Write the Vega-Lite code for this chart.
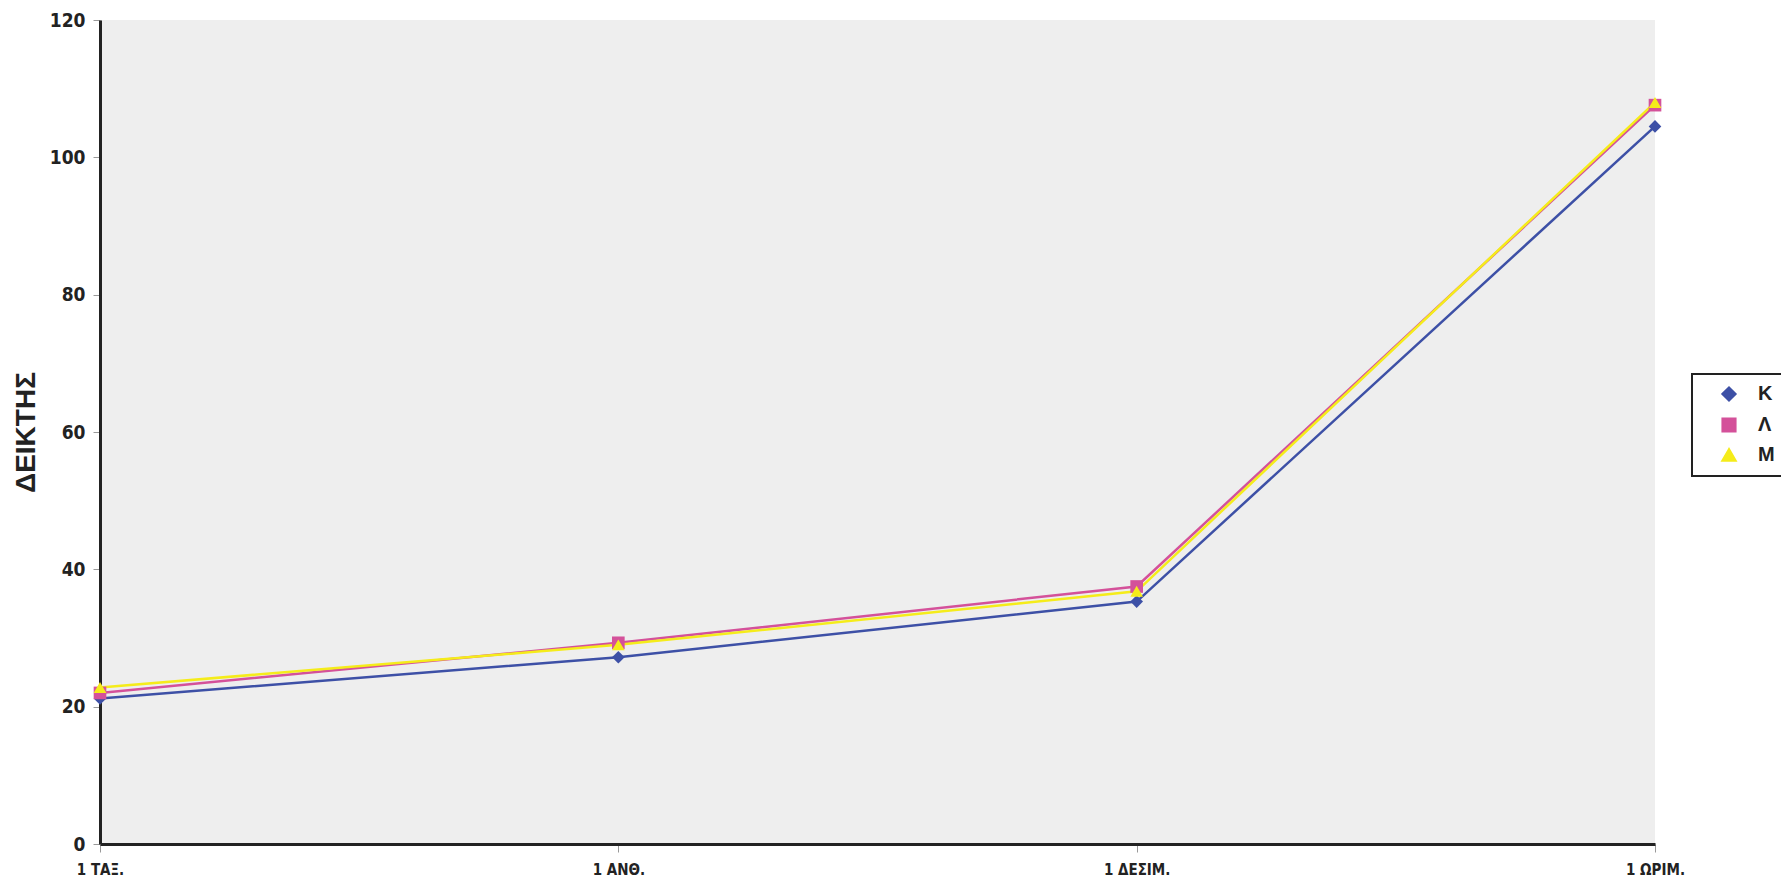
{
  "$schema": "https://vega.github.io/schema/vega-lite/v6.json",
  "width": 1555,
  "height": 824,
  "autosize": {"type": "none"},
  "padding": {"left": 100, "top": 20, "right": 126, "bottom": 41},
  "background": "white",
  "config": {
    "view": {"fill": "#eeeeee", "stroke": null},
    "font": "DejaVu Sans Condensed, Liberation Sans, sans-serif"
  },
  "data": {
    "values": [
      {"stage": "1 ΤΑΞ.", "series": "Κ", "value": 21.2},
      {"stage": "1 ΑΝΘ.", "series": "Κ", "value": 27.2},
      {"stage": "1 ΔΕΣΙΜ.", "series": "Κ", "value": 35.3},
      {"stage": "1 ΩΡΙΜ.", "series": "Κ", "value": 104.5},
      {"stage": "1 ΤΑΞ.", "series": "Λ", "value": 22.0},
      {"stage": "1 ΑΝΘ.", "series": "Λ", "value": 29.3},
      {"stage": "1 ΔΕΣΙΜ.", "series": "Λ", "value": 37.5},
      {"stage": "1 ΩΡΙΜ.", "series": "Λ", "value": 107.6},
      {"stage": "1 ΤΑΞ.", "series": "Μ", "value": 22.8},
      {"stage": "1 ΑΝΘ.", "series": "Μ", "value": 29.0},
      {"stage": "1 ΔΕΣΙΜ.", "series": "Μ", "value": 36.8},
      {"stage": "1 ΩΡΙΜ.", "series": "Μ", "value": 108.0}
    ]
  },
  "mark": {"type": "line", "strokeWidth": 2.5, "point": {"filled": true, "size": 160}},
  "encoding": {
    "x": {
      "field": "stage",
      "type": "ordinal",
      "sort": ["1 ΤΑΞ.", "1 ΑΝΘ.", "1 ΔΕΣΙΜ.", "1 ΩΡΙΜ."],
      "scale": {"type": "point", "padding": 0},
      "axis": {
        "title": null,
        "labelAngle": 0,
        "labelFont": "DejaVu Sans Condensed, Liberation Sans, sans-serif",
        "labelFontWeight": "bold",
        "labelFontSize": 15,
        "labelColor": "#222222",
        "labelPadding": 10,
        "tickColor": "#999999",
        "tickSize": 8,
        "domainColor": "#222222",
        "domainWidth": 3,
        "grid": false
      }
    },
    "y": {
      "field": "value",
      "type": "quantitative",
      "scale": {"domain": [0, 120], "nice": false},
      "axis": {
        "title": "ΔΕΙΚΤΗΣ",
        "titleFont": "Liberation Sans",
        "titleFontWeight": "bold",
        "titleFontSize": 28,
        "titleColor": "#222222",
        "titlePadding": 9,
        "values": [0, 20, 40, 60, 80, 100, 120],
        "labelFont": "DejaVu Sans Condensed, Liberation Sans, sans-serif",
        "labelFontWeight": "bold",
        "labelFontSize": 19,
        "labelColor": "#222222",
        "labelPadding": 8,
        "tickColor": "#999999",
        "tickSize": 7,
        "domainColor": "#222222",
        "domainWidth": 3,
        "grid": false
      }
    },
    "color": {
      "field": "series",
      "type": "nominal",
      "scale": {"domain": ["Κ", "Λ", "Μ"], "range": ["#3d50a6", "#d4519a", "#f5ec1a"]},
      "legend": {
        "title": null,
        "orient": "none",
        "legendX": 1592,
        "legendY": 354,
        "strokeColor": "#222222",
        "fillColor": "white",
        "padding": 10,
        "rowPadding": 7,
        "labelFont": "Liberation Sans",
        "labelFontWeight": "bold",
        "labelFontSize": 20,
        "labelColor": "#222222",
        "labelOffset": 19,
        "symbolOffset": 17,
        "symbolSize": 160,
        "symbolStrokeWidth": 2.5,
        "symbolOpacity": 1,
        "encode": {"legend": {"update": {"strokeWidth": {"value": 2}}}}
      }
    },
    "shape": {
      "field": "series",
      "type": "nominal",
      "scale": {"domain": ["Κ", "Λ", "Μ"], "range": ["diamond", "square", "triangle-up"]},
      "legend": {
        "title": null,
        "orient": "none",
        "legendX": 1592,
        "legendY": 354
      }
    }
  }
}
